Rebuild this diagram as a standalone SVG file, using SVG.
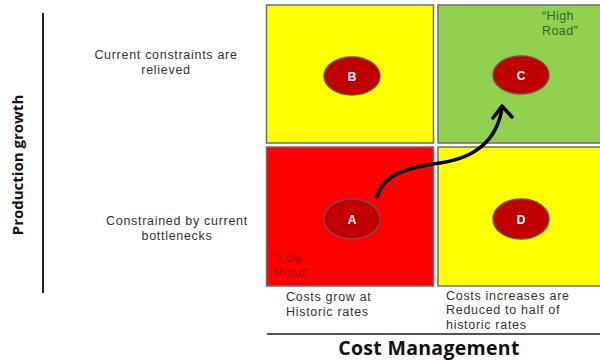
<svg xmlns="http://www.w3.org/2000/svg" width="600" height="360" viewBox="0 0 600 360">
<style>
.quad{stroke:#6f6f6f;stroke-width:1.5}
.dot{fill:#c00000;stroke:#7a4a50;stroke-width:1.5}
.dotlbl{font-family:"Liberation Sans",Arial,sans-serif;font-size:12px;font-weight:bold;fill:#ffffff;text-anchor:middle}
.lbl{font-family:"Liberation Sans",Arial,sans-serif;font-size:12.5px;letter-spacing:0.7px;fill:#333333}
.ctr{text-anchor:middle}
.axis{font-family:"Open Sans","Liberation Sans",sans-serif;font-weight:bold;fill:#111111}
.note{font-family:"Liberation Sans",Arial,sans-serif;font-size:12.5px;letter-spacing:0.4px}
</style>
<rect width="600" height="360" fill="#ffffff"/>
<g id="axis-y">
<line x1="43" y1="13" x2="43" y2="293" stroke="#222222" stroke-width="2"/>
<text class="axis" font-size="15" transform="translate(23,165) rotate(-90)" text-anchor="middle">Production growth</text>
</g>
<g id="axis-x">
<line x1="267" y1="334" x2="600" y2="334" stroke="#555555" stroke-width="2"/>
<text class="axis" font-size="19.5" x="429" y="355" text-anchor="middle" letter-spacing="0.3">Cost Management</text>
</g>
<g id="row-labels">
<text class="lbl ctr" x="166" y="59">Current constraints are</text>
<text class="lbl ctr" x="166" y="73.5">relieved</text>
<text class="lbl ctr" x="177" y="225">Constrained by current</text>
<text class="lbl ctr" x="177" y="239.5">bottlenecks</text>
</g>
<g id="col-labels">
<text class="lbl" x="286" y="301">Costs grow at</text>
<text class="lbl" x="286" y="315.5">Historic rates</text>
<text class="lbl" x="446" y="299.5">Costs increases are</text>
<text class="lbl" x="446" y="314">Reduced to half of</text>
<text class="lbl" x="446" y="328.5">historic rates</text>
</g>
<g id="quad-B">
<rect class="quad" x="266.5" y="5" width="167" height="138" fill="#ffff00"/>
<ellipse class="dot" cx="352" cy="76" rx="28" ry="19"/>
<text class="dotlbl" x="352" y="80.5">B</text>
</g>
<g id="quad-C">
<rect class="quad" x="438" y="5" width="166" height="138" fill="#92d050"/>
<ellipse class="dot" cx="521" cy="75" rx="28" ry="19"/>
<text class="dotlbl" x="521" y="79.5">C</text>
<text class="note" x="542" y="20" fill="#2e6b2e">“High</text>
<text class="note" x="542" y="34.5" fill="#2e6b2e">Road”</text>
</g>
<g id="quad-A">
<rect class="quad" x="266.5" y="147" width="167" height="139" fill="#ff0000"/>
<ellipse class="dot" cx="352" cy="219" rx="28" ry="20" stroke="#8a6a7a"/>
<text class="dotlbl" x="352" y="223.5">A</text>
<text class="note" x="274" y="262" fill="#a00808">“Low</text>
<text class="note" x="274" y="276.5" fill="#a00808">Road”</text>
</g>
<g id="quad-D">
<rect class="quad" x="438" y="147" width="166" height="139" fill="#ffff00"/>
<ellipse class="dot" cx="521" cy="219" rx="28" ry="20"/>
<text class="dotlbl" x="521" y="223.5">D</text>
</g>
<g id="connectors" fill="none" stroke="#000000" stroke-width="3.5" stroke-linecap="round" stroke-linejoin="round">
<path d="M377,197 C383,175 405,168 440,163 C475,158 497,140 502,108"/>
<path d="M493,118 L502,106 L512,117"/>
</g>
</svg>
